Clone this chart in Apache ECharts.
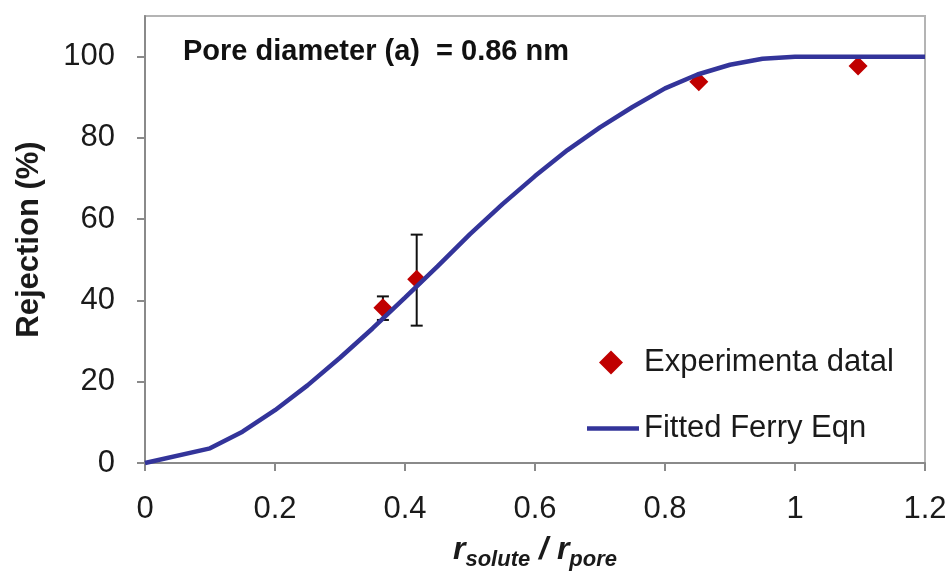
<!DOCTYPE html>
<html><head><meta charset="utf-8">
<script src="https://cdn.jsdelivr.net/npm/echarts@6/dist/echarts.min.js"></script>
<style>html,body{margin:0;padding:0;background:#fff}#c{width:950px;height:571px}</style>
</head><body><div id="c"></div>
<script>
// Experimental data
const expX = [0.366, 0.418, 0.852, 1.097];
const expY = [38.2, 45.2, 93.8, 97.7];
const errLow = [35.2, 33.8, 93.8, 97.7];
const errHigh = [41.0, 56.2, 93.8, 97.7];
// Fitted Ferry equation curve
const fitX = [0, 0.1, 0.15, 0.2, 0.25, 0.3, 0.35, 0.4, 0.45, 0.5, 0.55, 0.6, 0.65, 0.7, 0.75, 0.8, 0.85, 0.9, 0.95, 1.0, 1.1, 1.2];
const fitY = [0, 3.6, 7.7, 13.0, 19.1, 25.9, 33.1, 40.7, 48.4, 56.3, 63.7, 70.6, 77.0, 82.6, 87.6, 92.2, 95.6, 98.0, 99.5, 100, 100, 100];
const yTicks = [0, 20, 40, 60, 80, 100];
const seriesNames = ['Experimenta datal', 'Fitted Ferry Eqn'];
const annotation = 'Pore diameter (a)  = 0.86 nm';

const FONT = '"Liberation Sans", Arial, sans-serif';
const chart = echarts.init(document.getElementById('c'));
chart.setOption({
  animation: false,
  textStyle: {fontFamily: FONT},
  grid: {left: 145, right: 25, top: 16, bottom: 108, show: true, borderColor: '#b4b4b4', borderWidth: 2,
         containLabel: false, outerBoundsMode: 'none'},
  xAxis: {
    type: 'value', min: 0, max: 1.2, interval: 0.2,
    axisLine: {show: true, onZero: false, lineStyle: {color: '#8a8a8a', width: 2}},
    axisTick: {show: true, inside: false, length: 8, lineStyle: {color: '#8a8a8a', width: 2}},
    axisLabel: {fontSize: 31, color: '#1a1a1a', margin: 31, fontFamily: FONT,
      formatter: v => String(+v.toFixed(1))},
    splitLine: {show: false},
    name: '{r|r}{sub|solute}{r| / r}{sub|pore}',
    nameLocation: 'middle', nameGap: 69,
    nameTextStyle: {
      rich: {
        r: {fontSize: 32, fontWeight: 'bold', fontStyle: 'italic', color: '#1a1a1a', fontFamily: FONT, verticalAlign: 'bottom', lineHeight: 34},
        sub: {fontSize: 22, fontWeight: 'bold', fontStyle: 'italic', color: '#1a1a1a', fontFamily: FONT, verticalAlign: 'bottom', padding: [0,0,-5,0], lineHeight: 34}
      }
    }
  },
  yAxis: {
    type: 'value', min: 0, max: 110,
    axisLine: {show: true, lineStyle: {color: '#8a8a8a', width: 2}},
    axisTick: {show: true, length: 8, customValues: yTicks, lineStyle: {color: '#8a8a8a', width: 2}},
    axisLabel: {fontSize: 31, color: '#1a1a1a', margin: 30, customValues: yTicks, fontFamily: FONT},
    splitLine: {show: false},
    name: 'Rejection (%)', nameLocation: 'middle', nameGap: 100,
    nameTextStyle: {fontSize: 31, fontWeight: 'bold', color: '#1a1a1a', fontFamily: FONT}
  },
  legend: [
    {data: [{name: seriesNames[0], icon: 'diamond'}], left: 594, top: 342, itemWidth: 24, itemHeight: 24,
     itemStyle: {opacity: 1},
     textStyle: {fontSize: 31, color: '#1a1a1a', fontFamily: FONT, padding: [0,0,0,16]}},
    {data: [{name: seriesNames[1], icon: 'rect'}], left: 582, top: 408, itemWidth: 52, itemHeight: 4.5,
     textStyle: {fontSize: 31, color: '#1a1a1a', fontFamily: FONT, padding: [0,0,0,0]}}
  ],
  graphic: [{
    type: 'text', left: 183, top: 37,
    style: {text: annotation, fontSize: 29, fontWeight: 'bold', fill: '#111', fontFamily: FONT}
  }],
  series: [
    {
      name: 'errbars', type: 'custom', z: 2,
      data: expX.map((x, i) => [x, errLow[i], errHigh[i]]),
      renderItem: function (params, api) {
        const lo = api.value(1), hi = api.value(2);
        if (hi - lo < 0.5) return null;
        const p1 = api.coord([api.value(0), hi]);
        const p2 = api.coord([api.value(0), lo]);
        const w = 6;
        const st = {stroke: '#111', lineWidth: 2};
        return {type: 'group', children: [
          {type: 'line', shape: {x1: p1[0], y1: p1[1], x2: p2[0], y2: p2[1]}, style: st},
          {type: 'line', shape: {x1: p1[0]-w, y1: p1[1], x2: p1[0]+w, y2: p1[1]}, style: st},
          {type: 'line', shape: {x1: p2[0]-w, y1: p2[1], x2: p2[0]+w, y2: p2[1]}, style: st}
        ]};
      },
      silent: true
    },
    {
      name: seriesNames[0], type: 'scatter', z: 3,
      symbol: 'diamond', symbolSize: 19,
      itemStyle: {color: '#c00000', opacity: 1},
      data: expX.map((x, i) => [x, expY[i]])
    },
    {
      name: seriesNames[1], type: 'line', z: 4,
      showSymbol: false, symbol: 'none', smooth: false, clip: false,
      lineStyle: {color: '#33349a', width: 4.5},
      itemStyle: {color: '#33349a'},
      data: fitX.map((x, i) => [x, fitY[i]])
    }
  ]
});
</script>
</body></html>
